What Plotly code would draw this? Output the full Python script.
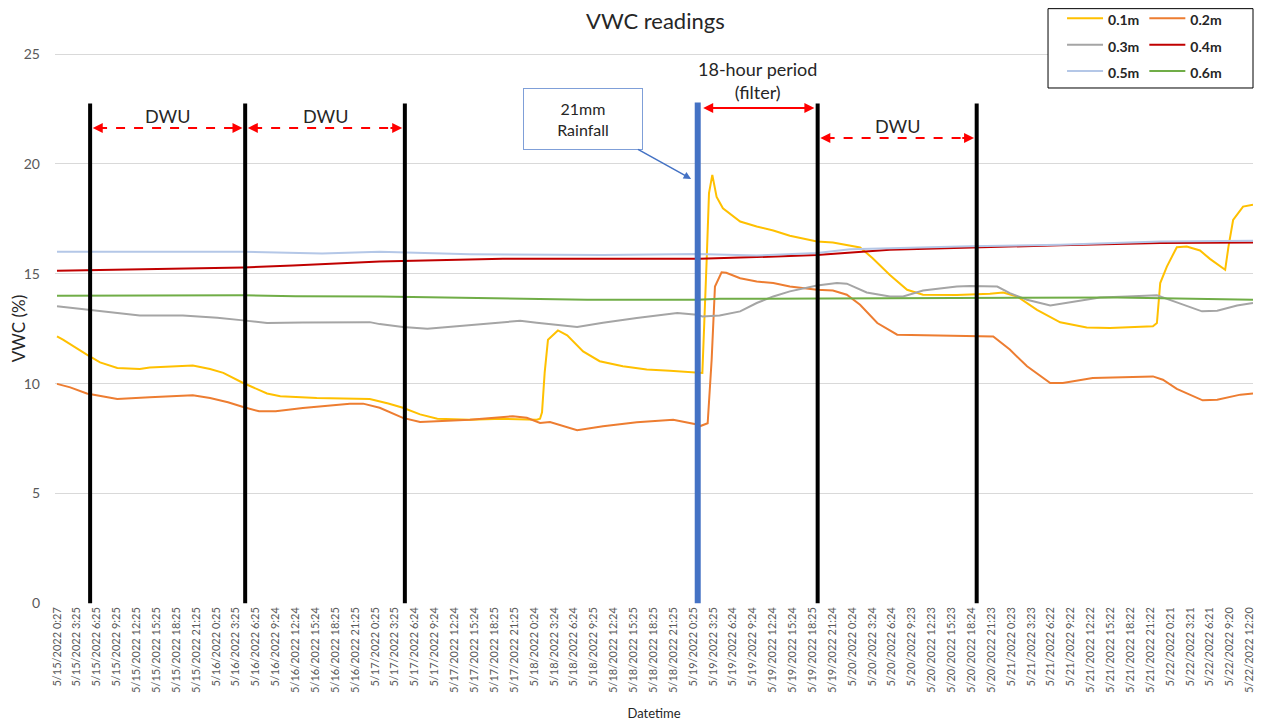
import plotly.graph_objects as go

# ---------------- data ----------------
tick_labels = [
    "5/15/2022 0:27", "5/15/2022 3:25", "5/15/2022 6:25", "5/15/2022 9:25", "5/15/2022 12:25", "5/15/2022 15:25", "5/15/2022 18:25", "5/15/2022 21:25",
    "5/16/2022 0:25", "5/16/2022 3:25", "5/16/2022 6:25", "5/16/2022 9:24", "5/16/2022 12:24", "5/16/2022 15:24", "5/16/2022 18:25", "5/16/2022 21:25",
    "5/17/2022 0:25", "5/17/2022 3:25", "5/17/2022 6:24", "5/17/2022 9:24", "5/17/2022 12:24", "5/17/2022 15:24", "5/17/2022 18:25", "5/17/2022 21:25",
    "5/18/2022 0:24", "5/18/2022 3:24", "5/18/2022 6:24", "5/18/2022 9:25", "5/18/2022 12:24", "5/18/2022 15:25", "5/18/2022 18:25", "5/18/2022 21:25",
    "5/19/2022 0:25", "5/19/2022 3:25", "5/19/2022 6:24", "5/19/2022 9:24", "5/19/2022 12:24", "5/19/2022 15:24", "5/19/2022 18:25", "5/19/2022 21:24",
    "5/20/2022 0:24", "5/20/2022 3:24", "5/20/2022 6:24", "5/20/2022 9:23", "5/20/2022 12:23", "5/20/2022 15:23", "5/20/2022 18:24", "5/20/2022 21:23",
    "5/21/2022 0:23", "5/21/2022 3:23", "5/21/2022 6:22", "5/21/2022 9:22", "5/21/2022 12:22", "5/21/2022 15:22", "5/21/2022 18:22", "5/21/2022 21:22",
    "5/22/2022 0:21", "5/22/2022 3:21", "5/22/2022 6:21", "5/22/2022 9:20", "5/22/2022 12:20",
]
tick_hours = [3 * i for i in range(len(tick_labels))]  # hours since first reading

# hours since 5/15/2022 0:27 and VWC (%) per depth
h_01 = [0, 0.9, 4.5, 6.5, 9.1, 12.5, 14.0, 19.0, 20.5, 23.1, 25.1, 28.1, 31.7, 33.7, 39.2, 47.2, 50.0, 52.2,
        54.8, 57.4, 62.3, 67.3, 72.4, 72.9, 73.2, 73.6, 74.1, 75.6, 77.0, 79.4, 81.9, 85.4, 89.0, 92.5, 96.3,
        97.4, 98.05, 98.4, 98.9, 99.55, 100.5, 103.1, 105.6, 108.1, 110.6, 114.7, 117.1, 119.7, 121.2, 123.1,
        125.7, 128.3, 130.7, 135.8, 140.8, 142.8, 144.9, 147.9, 151.4, 155.4, 158.9, 165.4, 166.0, 166.5,
        167.5, 169.0, 170.5, 172.5, 174.0, 176.3, 176.8, 177.5, 179.0, 180.5]
v_01 = [12.15, 12.0, 11.32, 10.97, 10.71, 10.67, 10.74, 10.79, 10.83, 10.67, 10.49, 10.03, 9.55, 9.43, 9.35, 9.3, 9.1, 8.9,
        8.6, 8.4, 8.36, 8.4, 8.36, 8.4, 8.7, 10.5, 12.0, 12.42, 12.2, 11.47, 11.02, 10.79, 10.64, 10.59, 10.52,
        10.49, 15.64, 18.67, 19.5, 18.5, 17.98, 17.38, 17.15, 16.97, 16.73, 16.47, 16.42, 16.29, 16.2, 15.71,
        14.95, 14.27, 14.05, 14.04, 14.09, 14.15, 13.97, 13.36, 12.79, 12.56, 12.53, 12.61, 12.76, 14.58,
        15.33, 16.21, 16.24, 16.06, 15.68, 15.18, 16.24, 17.45, 18.06, 18.14]

h_02 = [0, 2.0, 4.5, 6.5, 9.1, 14.0, 20.5, 23.1, 25.8, 28.1, 30.5, 33.0, 37.1, 44.2, 46.2, 48.7, 52.2, 54.8,
        57.4, 62.3, 68.8, 70.9, 72.9, 74.4, 78.5, 82.4, 87.5, 93.0, 96.6, 97.0, 98.2, 98.8, 99.3, 100.3, 101.0,
        103.1, 105.6, 108.1, 110.6, 114.7, 117.1, 119.2, 121.2, 123.8, 126.8, 130.7, 135.8, 141.3, 143.8,
        146.4, 149.9, 151.8, 156.3, 161.5, 165.4, 166.9, 169.0, 172.9, 175.1, 178.6, 180.5]
v_02 = [9.99, 9.83, 9.55, 9.43, 9.30, 9.38, 9.47, 9.35, 9.15, 8.94, 8.74, 8.74, 8.89, 9.09, 9.09, 8.9, 8.44, 8.25,
        8.28, 8.36, 8.52, 8.45, 8.21, 8.25, 7.88, 8.06, 8.24, 8.36, 8.14, 8.06, 8.2, 11.09, 14.42, 15.07, 15.05,
        14.8, 14.65, 14.58, 14.42, 14.27, 14.24, 14.05, 13.59, 12.76, 12.23, 12.2, 12.17, 12.15, 11.55,
        10.79, 10.03, 10.03, 10.26, 10.29, 10.33, 10.18, 9.76, 9.24, 9.27, 9.5, 9.55]

h_03 = [0, 4.5, 9.1, 12.5, 19.0, 24.2, 28.1, 31.7, 37.1, 47.2, 48.7, 52.2, 55.9, 62.3, 69.9, 72.4, 78.5, 82.4,
        87.5, 93.6, 96.6, 97.4, 100.0, 103.1, 105.6, 108.1, 110.6, 114.7, 117.7, 119.2, 122.2, 125.7, 127.7,
        130.7, 135.8, 137.8, 141.9, 143.8, 146.4, 149.9, 153.9, 157.4, 161.5, 166.0, 169.0, 172.8, 175.1,
        178.1, 180.5]
v_03 = [13.52, 13.36, 13.2, 13.1, 13.1, 13.0, 12.88, 12.76, 12.78, 12.8, 12.71, 12.58, 12.5, 12.68, 12.86, 12.77, 12.58, 12.77,
        12.99, 13.21, 13.14, 13.06, 13.1, 13.29, 13.67, 13.97, 14.2, 14.47, 14.58, 14.55, 14.15, 13.97, 13.97,
        14.24, 14.42, 14.45, 14.42, 14.12, 13.82, 13.56, 13.74, 13.92, 13.97, 14.02, 13.7, 13.29, 13.32,
        13.56, 13.67]

h_04 = [0, 28.1, 35.6, 48.7, 67.3, 97.0, 105.6, 114.7, 125.7, 140.8, 151.4, 166.5, 180.5]
v_04 = [15.14, 15.29, 15.38, 15.56, 15.68, 15.68, 15.76, 15.86, 16.09, 16.22, 16.3, 16.4, 16.42]

h_05 = [0, 20.0, 28.1, 40.0, 48.7, 62.3, 82.4, 96.6, 105.6, 114.7, 119.7, 137.8, 151.4, 166.5, 180.5]
v_05 = [16.0, 15.98, 16.0, 15.92, 16.0, 15.89, 15.86, 15.9, 15.83, 15.95, 16.12, 16.25, 16.32, 16.47, 16.5]

h_06 = [0, 28.1, 36.0, 48.7, 80.0, 96.6, 100.0, 140.0, 160.0, 180.5]
v_06 = [14.0, 14.02, 13.98, 13.97, 13.82, 13.82, 13.86, 13.88, 13.92, 13.82]

series_names = ["0.1m", "0.2m", "0.3m", "0.4m", "0.5m", "0.6m"]
series_hours = [h_01, h_02, h_03, h_04, h_05, h_06]
series_vals = [v_01, v_02, v_03, v_04, v_05, v_06]
series_colors = ["#FFC000", "#ED7D31", "#A5A5A5", "#C00000", "#B4C7E7", "#70AD47"]

# event markers (hours since first reading)
dwu_bounds = [5.0, 28.4, 52.5, 114.8, 138.8]
rain_hour = 96.7

FONT = "Lato, 'Open Sans', sans-serif"

fig = go.Figure()
for i, (nm, hx, vy, col) in enumerate(zip(series_names, series_hours, series_vals, series_colors)):
    fig.add_trace(go.Scatter(
        x=hx, y=vy, mode="lines",
        name="<span style='font-size:14px'><b>%s</b></span>" % nm,
        line=dict(color=col, width=2),
        legendgroup="g%d" % (i % 2),
    ))

shapes = []
annotations = []

# legend frame
shapes.append(dict(type="rect", xref="paper", yref="paper", x0=0.8289, x1=1.0, y0=0.9365, y1=1.0805,
                   line=dict(color="black", width=1), fillcolor="white", layer="above"))

# vertical event lines
for xb in dwu_bounds:
    shapes.append(dict(type="line", xref="x", yref="y", x0=xb, x1=xb, y0=0, y1=22.75,
                       line=dict(color="black", width=4)))
shapes.append(dict(type="line", xref="x", yref="y", x0=rain_hour, x1=rain_hour, y0=0, y1=22.8,
                   line=dict(color="#4472C4", width=6)))


def dashed_arrow(x0, x1, yv):
    shapes.append(dict(type="line", xref="x", yref="y", x0=x0 + 1.2, x1=x1 - 1.2, y0=yv, y1=yv,
                       line=dict(color="#FF0000", width=2, dash="dash")))
    for tip, tail in ((x0 + 0.4, x0 + 2.4), (x1 - 0.4, x1 - 2.4)):
        annotations.append(dict(x=tip, y=yv, ax=tail, ay=yv, xref="x", yref="y", axref="x", ayref="y",
                                text="", showarrow=True, arrowhead=2, arrowsize=1, arrowwidth=2,
                                arrowcolor="#FF0000", standoff=0))


dashed_arrow(dwu_bounds[0], dwu_bounds[1], 21.64)
dashed_arrow(dwu_bounds[1], dwu_bounds[2], 21.64)
dashed_arrow(dwu_bounds[3], dwu_bounds[4], 21.18)

# solid 18-hour arrow
annotations.append(dict(x=dwu_bounds[3] - 0.5, y=22.55, ax=rain_hour + 0.6, ay=22.55,
                        xref="x", yref="y", axref="x", ayref="y", text="", showarrow=True,
                        arrowhead=2, arrowside="end+start", arrowsize=1, arrowwidth=2,
                        arrowcolor="#FF0000", standoff=0, startstandoff=0))

txt_font = dict(family=FONT, size=18, color="#262626")
annotations.append(dict(x=(dwu_bounds[0] + dwu_bounds[1]) / 2, y=22.2, xref="x", yref="y",
                        text="DWU", showarrow=False, font=txt_font))
annotations.append(dict(x=(dwu_bounds[1] + dwu_bounds[2]) / 2, y=22.2, xref="x", yref="y",
                        text="DWU", showarrow=False, font=txt_font))
annotations.append(dict(x=(dwu_bounds[3] + dwu_bounds[4]) / 2, y=21.75, xref="x", yref="y",
                        text="DWU", showarrow=False, font=txt_font))
annotations.append(dict(x=(rain_hour + dwu_bounds[3]) / 2, y=23.8, xref="x", yref="y",
                        text="18-hour period<br>(filter)", showarrow=False, font=txt_font))

# rainfall callout box with arrow
annotations.append(dict(x=rain_hour - 1.0, y=19.32, xref="x", yref="y",
                        ax=-108, ay=-60, text="21mm<br>Rainfall", showarrow=True,
                        arrowhead=2, arrowsize=1, arrowwidth=1.5, arrowcolor="#4472C4",
                        font=dict(family=FONT, size=16, color="#262626"),
                        bordercolor="#7F9FD8", borderwidth=1, borderpad=4,
                        bgcolor="white", width=110, height=52))

fig.update_layout(
    width=1257, height=717,
    margin=dict(l=47, r=12, t=45, b=121, autoexpand=False),
    paper_bgcolor="white", plot_bgcolor="white",
    font=dict(family=FONT, color="#595959"),
    title=dict(text="VWC readings", x=0.515, xanchor="center", yref="container", y=0.982, yanchor="middle",
               font=dict(family=FONT, size=22, color="#262626")),
    shapes=shapes, annotations=annotations,
    legend=dict(orientation="h", xref="paper", x=0.8406, xanchor="left",
                yref="paper", y=1.096, yanchor="top",
                borderwidth=0, bgcolor="rgba(0,0,0,0)",
                font=dict(family=FONT, size=18, color="#262626"),
                tracegroupgap=63, itemwidth=36, traceorder="grouped"),
    showlegend=True,
)
fig.update_xaxes(
    range=[-0.3, 180.5], tickmode="array", tickvals=tick_hours, ticktext=tick_labels,
    tickangle=-90, tickfont=dict(size=11, color="#595959"), showgrid=False, zeroline=False,
    showline=False, ticks="", automargin=False,
    title=dict(text="Datetime", font=dict(size=13, color="#262626"), standoff=16),
)
fig.update_yaxes(
    range=[-0.03, 25.05], tickvals=[0, 5, 10, 15, 20, 25], tickfont=dict(size=14, color="#595959"),
    showgrid=True, gridcolor="#D9D9D9", gridwidth=1, zeroline=False, ticks="", showline=False,
    ticklabelstandoff=14, automargin=False,
    title=dict(text="VWC (%)", font=dict(size=17, color="#262626"), standoff=6),
)

fig.write_html("out.html")
